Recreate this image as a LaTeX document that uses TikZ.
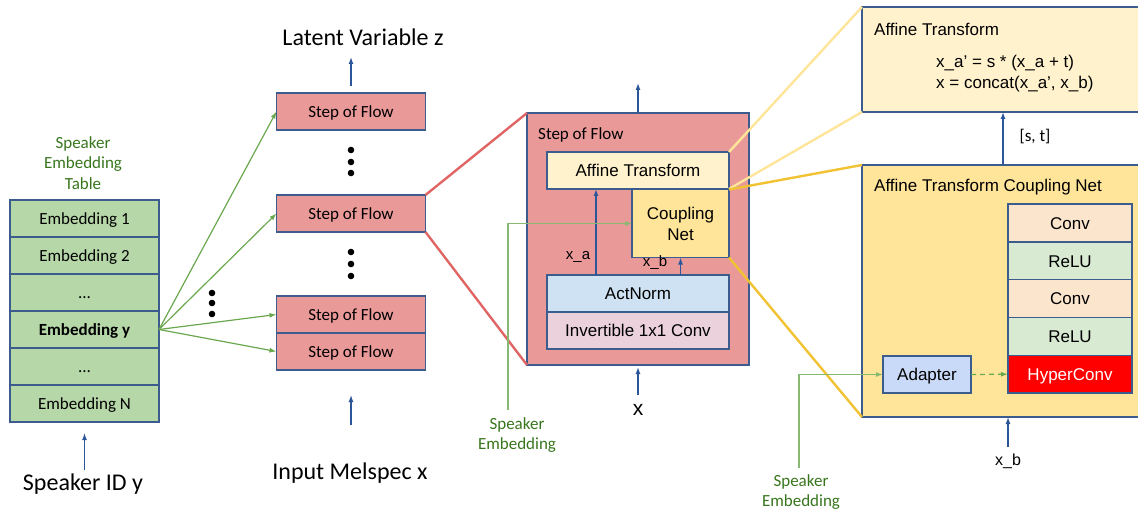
\documentclass[tikz,border=0pt]{standalone}
\usepackage{fontspec}
\setmainfont{Carlito}
\newfontfamily\arialfont{Liberation Sans}
\usetikzlibrary{arrows.meta}
\definecolor{bordblue}{HTML}{3C5C8E}
\definecolor{arrblue}{HTML}{2B579A}
\definecolor{flowred}{HTML}{EA9999}
\definecolor{embgreen}{HTML}{B6D7A8}
\definecolor{afflight}{HTML}{FFF2CC}
\definecolor{cplyel}{HTML}{FFE599}
\definecolor{actblue}{HTML}{CFE2F3}
\definecolor{invpink}{HTML}{EAD1DC}
\definecolor{convorange}{HTML}{FCE5CD}
\definecolor{relugreen}{HTML}{D9EAD3}
\definecolor{adapblue}{HTML}{C9DAF8}
\definecolor{zoomred}{HTML}{E06666}
\definecolor{lightyel}{HTML}{FFE599}
\definecolor{darkyel}{HTML}{F1C232}
\definecolor{arrgreen}{HTML}{6AA84F}
\definecolor{txtgreen}{HTML}{38761D}
\newcommand{\calsize}{\fontsize{17}{20.5}\selectfont}
\newcommand{\bigsize}{\fontsize{24}{28}\selectfont}
\newcommand{\arsize}{\arialfont\fontsize{17}{21}\selectfont}

\begin{document}
\begin{tikzpicture}[x=1pt, y=-1pt, >={Latex[length=7pt,width=5pt]},
    box/.style={draw=bordblue, line width=1.4pt, inner sep=0pt, outer sep=0pt, minimum height=37pt},
    row/.style={box, text height=12.5pt, text depth=0pt},
    arr/.style={->, draw=arrblue, line width=1.3pt},
    garr/.style={->, draw=arrgreen, line width=1.2pt},
    gtext/.style={text=txtgreen, font=\calsize, align=center, inner sep=0pt},
    zoomline/.style={line width=2.4pt}]
\useasboundingbox (0,0) rectangle (1138,513);

% speaker embedding table
\node[gtext] (tabtitle) at (83,163) {Speaker\\Embedding\\Table};
\node[row, fill=embgreen, minimum width=149pt, font=\calsize] (e1) at (84.5,218.5) {Embedding 1};
\node[row, fill=embgreen, minimum width=149pt, font=\calsize] (e2) at (84.5,255.5) {Embedding 2};
\node[row, fill=embgreen, minimum width=149pt, font=\calsize] (edots1) at (84.5,292.5) {...};
\node[row, fill=embgreen, minimum width=149pt, font=\calsize] (ey) at (84.5,329.5) {\bfseries Embedding y};
\node[row, fill=embgreen, minimum width=149pt, font=\calsize] (edots2) at (84.5,366.5) {...};
\node[row, fill=embgreen, minimum width=149pt, font=\calsize] (en) at (84.5,403.5) {Embedding N};
\node[font=\bigsize, inner sep=0pt] (spkid) at (83,484) {Speaker ID y};
\draw[arr] ([yshift=-48pt]en.south) -- ([yshift=-11pt]en.south);

% flow steps
\node[row, fill=flowred, minimum width=149pt, font=\calsize] (s1) at (351,111.5) {Step of Flow};
\node[row, fill=flowred, minimum width=149pt, font=\calsize] (s2) at (351,213.5) {Step of Flow};
\node[row, fill=flowred, minimum width=149pt, font=\calsize] (s3) at (351,314.5) {Step of Flow};
\node[row, fill=flowred, minimum width=149pt, font=\calsize] (s4) at (351,351.5) {Step of Flow};
\node[font=\bigsize, inner sep=0pt] (latent) at (363,37) {Latent Variable z};
\node[font=\bigsize, inner sep=0pt] (melin) at (350,473) {Input Melspec x};
\draw[arr] ([yshift=7pt]s1.north) -- ([yshift=36pt]s1.north);
\draw[arr] ([yshift=-55pt]s4.south) -- ([yshift=-25pt]s4.south);

\fill (351,150) circle (3.3pt) (351,162) circle (3.3pt) (351,173) circle (3.3pt);
\fill (351,252) circle (3.3pt) (351,264) circle (3.3pt) (351,276) circle (3.3pt);
\fill (212,293) circle (3.3pt) (212,303) circle (3.3pt) (212,314) circle (3.3pt);

\draw[garr] (ey.east) -- (s1.west);
\draw[garr] (ey.east) -- (s2.west);
\draw[garr] (ey.east) -- (s3.west);
\draw[garr] (ey.east) -- (s4.west);

% one step of flow, zoomed
\node[box, fill=flowred, minimum width=222pt, minimum height=252pt] (big) at (638,239) {};
\draw[zoomline, zoomred] (s2.north east) -- (big.north west);
\draw[zoomline, zoomred] (s2.south east) -- (big.south west);
\node[anchor=west, font=\calsize, inner sep=0pt] (biglbl) at (538,135) {Step of Flow};
\node[row, fill=afflight, minimum width=182pt, font=\arsize] (aff) at (638,170.5) {Affine Transform};
\node[box, fill=cplyel, minimum width=97pt, minimum height=68pt, font=\arsize, align=center] (cpl) at (680.5,223.5) {Coupling\\Net};
\node[row, fill=actblue, minimum width=182pt, font=\arsize] (act) at (638,293.5) {ActNorm};
\node[row, fill=invpink, minimum width=182pt, font=\arsize] (inv) at (638,330.5) {Invertible 1x1 Conv};
\draw[arr] ([xshift=-42pt]act.north) -- ([xshift=-42pt]aff.south);
\draw[arr] (act.north -| cpl.south) -- (cpl.south);
\node[font=\arialfont\fontsize{15}{18}\selectfont, inner sep=0pt] (xa) at (578,257) {x\_a};
\node[font=\arialfont\fontsize{15}{18}\selectfont, inner sep=0pt] (xb) at (655,263) {x\_b};
\draw[arr] (big.north) -- ([yshift=30pt]big.north);
\draw[arr] ([yshift=-30pt]big.south) -- ([yshift=-2pt]big.south);
\node[font=\arialfont\fontsize{21}{24}\selectfont, inner sep=0pt] (xin) at (638,410) {x};
\coordinate (spkin) at (508,410);
\draw[garr, arrgreen!80] (spkin) |- (cpl.west);
\node[gtext] (spk1) at (517,435) {Speaker\\Embedding};

% affine transform and coupling net, zoomed
\node[box, fill=afflight, minimum width=300pt, minimum height=105pt] (affbig) at (1012,59.5) {};
\node[box, fill=cplyel, minimum width=300pt, minimum height=252pt] (cplbig) at (1012,291) {};
\draw[zoomline, lightyel] (aff.north east) -- (affbig.north west);
\draw[zoomline, lightyel] (aff.south east) -- (affbig.south west);
\draw[zoomline, darkyel] (cpl.north east) -- (cplbig.north west);
\draw[zoomline, darkyel] (cpl.south east) -- (cplbig.south west);
\node[anchor=west, font=\arsize, inner sep=0pt] (afftitle) at (874,29) {Affine Transform};
\node[anchor=west, font=\arsize, align=left, inner sep=0pt] (affeq) at (936,73.5) {x\_a’ = s * (x\_a + t)\\x = concat(x\_a’, x\_b)};
\draw[arr] ([xshift=-9pt]cplbig.north) -- ([xshift=-9pt]affbig.south);
\node[font=\calsize, inner sep=0pt] (st) at (1035,137) {[s, t]};
\node[anchor=west, font=\arsize, inner sep=0pt] (cpltitle) at (874,187) {Affine Transform Coupling Net};

\node[row, fill=convorange, minimum width=124pt, minimum height=37.8pt, font=\arsize] (conv1) at (1070,223) {Conv};
\node[row, fill=relugreen, minimum width=124pt, minimum height=37.8pt, font=\arsize] (relu1) at (1070,260.8) {ReLU};
\node[row, fill=convorange, minimum width=124pt, minimum height=37.8pt, font=\arsize] (conv2) at (1070,298.6) {Conv};
\node[row, fill=relugreen, minimum width=124pt, minimum height=37.8pt, font=\arsize] (relu2) at (1070,336.4) {ReLU};
\node[row, fill=red, minimum width=124pt, minimum height=37.8pt, font=\arsize, text=white] (hyp) at (1070,374.2) {HyperConv};
\node[row, fill=adapblue, minimum width=88pt, font=\arsize] (adp) at (927,374.5) {Adapter};
\draw[garr, dash pattern=on 5pt off 4pt] (adp.east) -- (hyp.west);
\coordinate (spkin2) at (799,468);
\draw[garr, arrgreen!80] (spkin2) |- (adp.west);
\node[gtext] (spk2) at (801,492) {Speaker\\Embedding};
\draw[arr] ([xshift=-4pt,yshift=-30pt]cplbig.south) -- ([xshift=-4pt]cplbig.south);
\node[font=\arialfont\fontsize{16}{19}\selectfont, inner sep=0pt] (xb2) at (1008,461) {x\_b};

\end{tikzpicture}
\end{document}
